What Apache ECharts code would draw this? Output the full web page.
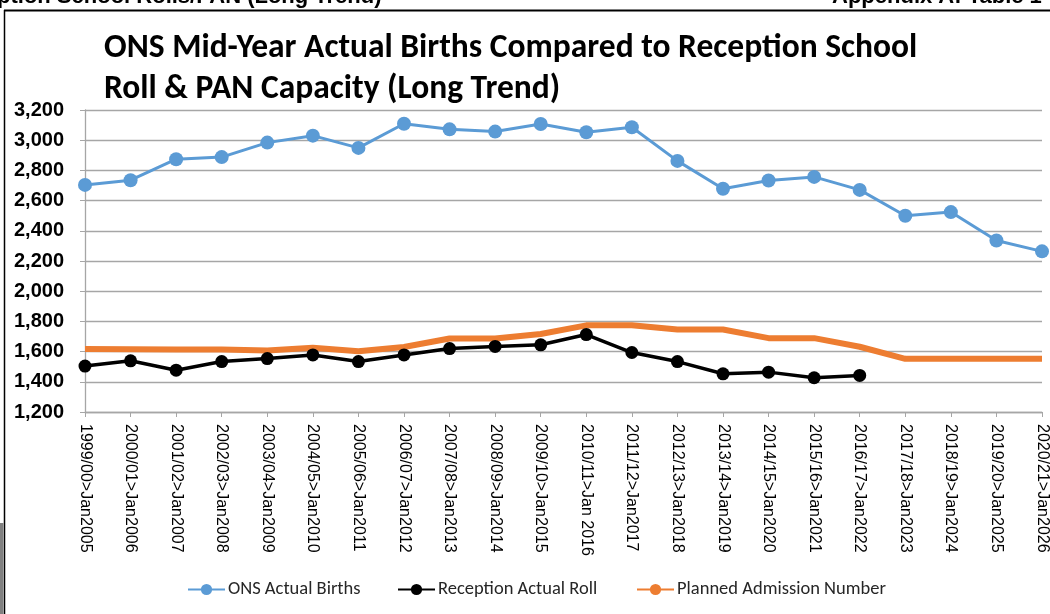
<!DOCTYPE html>
<html>
<head>
<meta charset="utf-8">
<script src="https://cdn.jsdelivr.net/npm/echarts@6/dist/echarts.min.js"></script>
<style>
  html,body{margin:0;padding:0;background:#fff;}
  #chart{width:1050px;height:614px;}
</style>
</head>
<body>
<div id="chart"></div>
<script>
const categories = [
  '1999/00>Jan2005','2000/01>Jan2006','2001/02>Jan2007','2002/03>Jan2008',
  '2003/04>Jan2009','2004/05>Jan2010','2005/06>Jan2011','2006/07>Jan2012',
  '2007/08>Jan2013','2008/09>Jan2014','2009/10>Jan2015','2010/11>Jan 2016',
  '2011/12>Jan2017','2012/13>Jan2018','2013/14>Jan2019','2014/15>Jan2020',
  '2015/16>Jan2021','2016/17>Jan2022','2017/18>Jan2023','2018/19>Jan2024',
  '2019/20>Jan2025','2020/21>Jan2026'
];
const onsBirths = [2704,2735,2874,2888,2984,3030,2949,3109,3072,3057,3107,3053,
  3086,2863,2678,2733,2757,2671,2500,2524,2336,2264];
const receptionRoll = [1504,1539,1477,1534,1554,1578,1534,1578,1620,1634,1645,1713,
  1594,1534,1453,1464,1427,1442,null,null,null,null];
const plannedAdmission = [1618,1616,1614,1614,1607,1625,1602,1630,1687,1687,1717,1774,
  1774,1746,1746,1689,1689,1632,1552,1552,1552,1552];
const seriesNames = ['ONS Actual Births','Reception Actual Roll','Planned Admission Number'];

const COLORS = { births:'#5B9BD5', roll:'#000000', pan:'#ED7D31', grid:'#a6a6a6' };
const FONT = "Calibri, Carlito, 'Liberation Sans Narrow', sans-serif";
const ARIAL = "'Liberation Sans', Arial, sans-serif";

const c = echarts.init(document.getElementById('chart'), null, {renderer:'canvas'});
// one legend per series so each item sits where the reference puts it
const legendAt = (name, left) => ({
  data:[name], left, top:580, padding:0, itemWidth:37, itemHeight:14,
  textStyle:{color:'#262626', fontSize:18.5, fontFamily:FONT, padding:[0,0,0,-2]}
});

c.setOption({
  backgroundColor:'#ffffff',
  animation:false,
  title:{
    text:'ONS Mid-Year Actual Births Compared to Reception School\nRoll & PAN Capacity (Long Trend)',
    left:104, top:28, padding:0,
    textStyle:{fontSize:33.5, fontWeight:'bold', fontFamily:FONT, color:'#000', lineHeight:41}
  },
  legend:[legendAt(seriesNames[0],187), legendAt(seriesNames[1],397), legendAt(seriesNames[2],636)],
  grid:{left:85, right:5, top:110, bottom:202},
  xAxis:{
    type:'category', data:categories, boundaryGap:false,
    axisLine:{lineStyle:{color:COLORS.grid, width:1.3}},
    axisTick:{show:true, length:5, lineStyle:{color:COLORS.grid}},
    axisLabel:{rotate:-90, interval:0, margin:12, color:'#000', fontSize:16, fontFamily:ARIAL},
    splitLine:{show:false}
  },
  yAxis:{
    type:'value', min:1200, max:3200, interval:200,
    axisLine:{show:true, lineStyle:{color:COLORS.grid, width:1.3}},
    axisTick:{show:true, length:5, lineStyle:{color:COLORS.grid}},
    axisLabel:{color:'#000', fontSize:20, fontWeight:'bold', fontFamily:ARIAL, margin:21,
      formatter:v=>v.toLocaleString('en-GB')},
    splitLine:{lineStyle:{color:COLORS.grid, width:1.3}}
  },
  series:[
    {name:seriesNames[0], type:'line', data:onsBirths, symbol:'circle', symbolSize:14,
      lineStyle:{width:3, color:COLORS.births}, itemStyle:{color:COLORS.births}},
    {name:seriesNames[1], type:'line', data:receptionRoll, symbol:'circle', symbolSize:13,
      lineStyle:{width:3.5, color:COLORS.roll}, itemStyle:{color:COLORS.roll}},
    {name:seriesNames[2], type:'line', data:plannedAdmission, symbol:'none', showSymbol:false,
      lineStyle:{width:6, color:COLORS.pan}, itemStyle:{color:COLORS.pan}}
  ],
  graphic:[
    {type:'text', left:-3, top:-14, style:{text:'ption School Rolls/PAN (Long Trend)',
      font:"bold 22px "+ARIAL, fill:'#000'}},
    {type:'text', left:832, top:-14, style:{text:'Appendix A: Table 1',
      font:"bold 22px "+ARIAL, fill:'#000'}},
    {type:'line', shape:{x1:4, y1:10.5, x2:1050, y2:10.5}, style:{stroke:'#000', lineWidth:2}},
    {type:'line', shape:{x1:4.5, y1:10, x2:4.5, y2:614}, style:{stroke:'#000', lineWidth:1.5}},
    {type:'rect', shape:{x:0, y:523, width:3.5, height:91}, style:{fill:'#808080'}}
  ]
});
</script>
</body>
</html>
